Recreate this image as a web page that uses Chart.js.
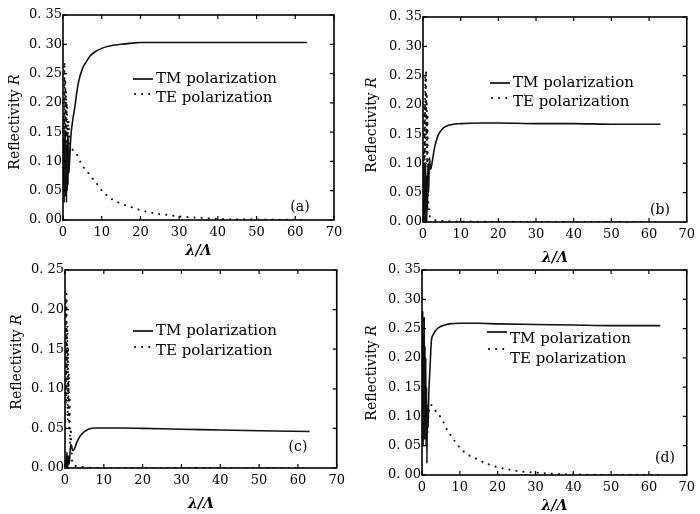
<!DOCTYPE html>
<html>
<head>
<meta charset="utf-8">
<script src="https://cdn.jsdelivr.net/npm/chart.js@4.4.0/dist/chart.umd.min.js"></script>
<style>
  html, body { margin: 0; padding: 0; background: #fff; }
  #wrap { position: relative; width: 700px; height: 514px; overflow: hidden; }
  .panel { position: absolute; width: 350px; }
</style>
</head>
<body>
<div id="wrap">
  <div class="panel" style="left:0;top:0;height:258px"><canvas id="chart-a"></canvas></div>
  <div class="panel" style="left:350px;top:0;height:265px"><canvas id="chart-b"></canvas></div>
  <div class="panel" style="left:0;top:257px;height:254px"><canvas id="chart-c"></canvas></div>
  <div class="panel" style="left:350px;top:257px;height:256px"><canvas id="chart-d"></canvas></div>
</div>
<script>
// x ticks shared by all four panels
const xTicks = [0, 10, 20, 30, 40, 50, 60, 70];

// (a)
const tmAX = [0.1,0.2,0.3,0.4,0.5,0.6,0.7,0.8,0.9,1.0,1.1,1.2,1.3,1.4,1.5,1.7,2.0,2.5,3.0,3.5,4.0,5.0,6.0,7.0,8.0,10,12,15,18,20,30,40,50,63];
const tmAY = [0.07,0.14,0.03,0.12,0.05,0.15,0.04,0.11,0.03,0.13,0.05,0.15,0.06,0.14,0.08,0.10,0.14,0.17,0.19,0.215,0.235,0.258,0.27,0.28,0.286,0.293,0.297,0.300,0.302,0.303,0.303,0.303,0.303,0.303];
const teAX = [0.1,0.2,0.3,0.4,0.5,0.6,0.7,0.8,0.9,1.0,1.2,1.4,1.7,2.0,2.5,3.3,5.0,6.7,8.5,10.2,12.3,15,17.6,20,23,26,30,35,40,50,63];
const teAY = [0.05,0.18,0.10,0.27,0.12,0.24,0.15,0.22,0.11,0.20,0.14,0.17,0.13,0.125,0.12,0.115,0.093,0.079,0.064,0.049,0.037,0.028,0.022,0.017,0.012,0.0095,0.006,0.004,0.002,0.001,0.0];

// (b)
const tmBX = [0.1,0.2,0.3,0.4,0.5,0.6,0.7,0.8,0.9,1.0,1.1,1.2,1.3,1.5,1.7,2.0,2.5,3.0,3.5,4.0,5.0,6.0,8.0,10,15,20,30,40,50,63];
const tmBY = [0.05,0.0,0.10,0.02,0.09,0.0,0.10,0.03,0.08,0.0,0.06,0.02,0.10,0.05,0.11,0.09,0.105,0.125,0.138,0.148,0.158,0.163,0.167,0.168,0.169,0.169,0.168,0.168,0.167,0.167];
const teBX = [0.1,0.2,0.3,0.4,0.5,0.6,0.7,0.8,0.9,1.0,1.1,1.2,1.3,1.5,1.8,2.5,4,10,20,63];
const teBY = [0.02,0.12,0.05,0.20,0.08,0.25,0.12,0.26,0.15,0.22,0.10,0.18,0.06,0.03,0.01,0.005,0.002,0.001,0.0,0.0];

// (c)
const tmCX = [0.1,0.3,0.5,0.7,0.9,1.1,1.3,1.5,2.0,2.5,3.0,4.0,5.0,6.0,8.0,10,15,20,30,40,50,63];
const tmCY = [0.01,0.0,0.02,0.0,0.015,0.005,0.02,0.03,0.022,0.025,0.032,0.041,0.046,0.049,0.0505,0.0505,0.0505,0.05,0.049,0.048,0.047,0.046];
const teCX = [0.1,0.2,0.3,0.4,0.5,0.6,0.7,0.8,0.9,1.0,1.1,1.2,1.3,1.5,1.8,2.5,5,10,63];
const teCY = [0.05,0.21,0.08,0.22,0.12,0.18,0.06,0.15,0.09,0.12,0.05,0.09,0.03,0.05,0.01,0.003,0.001,0.0,0.0];

// (d)
const tmDX = [0.1,0.2,0.3,0.4,0.5,0.6,0.7,0.8,0.9,1.0,1.1,1.2,1.3,1.4,1.6,1.8,2.1,2.5,3.0,3.5,4.7,6.0,7.3,10,15,20,30,40,50,63];
const tmDY = [0.10,0.28,0.05,0.24,0.08,0.27,0.06,0.22,0.09,0.20,0.05,0.15,0.02,0.12,0.08,0.14,0.18,0.23,0.24,0.246,0.253,0.256,0.258,0.259,0.259,0.258,0.257,0.256,0.255,0.255];
const teDX = [0.1,0.3,0.5,0.7,0.9,1.1,1.4,1.7,2.3,3.4,5.3,6.4,7.9,9.8,11.8,14.2,16.9,19.6,22.5,25.1,30,35,40,50,63];
const teDY = [0.05,0.12,0.06,0.14,0.08,0.12,0.07,0.10,0.12,0.111,0.095,0.080,0.065,0.048,0.036,0.028,0.020,0.014,0.010,0.007,0.004,0.002,0.001,0.0,0.0];

const serif = '"DejaVu Serif", "Liberation Serif", serif';
const teDash = [0.1, 7];

function toPoints(xs, ys) {
    return xs.map((x, i) => ({ x: x, y: ys[i] }));
}

// frame with inward ticks, y title with italic R, in-plot legend, panel tag
const framePlugin = {
    id: 'frame',
    afterDraw(chart, args, opts) {
        const ctx = chart.ctx;
        const a = chart.chartArea;
        const xs = chart.scales.x, ys = chart.scales.y;
        ctx.save();
        ctx.strokeStyle = '#000';
        ctx.lineWidth = 1.6;
        ctx.strokeRect(a.left, a.top, a.right - a.left, a.bottom - a.top);
        ctx.lineWidth = 1.2;
        ctx.beginPath();
        ys.ticks.forEach(t => {
            const py = ys.getPixelForValue(t.value);
            ctx.moveTo(a.left, py); ctx.lineTo(a.left + 4, py);
            ctx.moveTo(a.right, py); ctx.lineTo(a.right - 4, py);
        });
        xs.ticks.forEach(t => {
            const px = xs.getPixelForValue(t.value);
            ctx.moveTo(px, a.bottom); ctx.lineTo(px, a.bottom - 4);
            ctx.moveTo(px, a.top); ctx.lineTo(px, a.top + 4);
        });
        ctx.stroke();

        ctx.fillStyle = '#000';
        ctx.textBaseline = 'middle';

        // y title
        const T = opts.ytitle;
        const fontN = '14px ' + serif, fontI = 'italic 14px ' + serif;
        ctx.font = fontN;
        const w1 = ctx.measureText('Reflectivity ').width;
        ctx.font = fontI;
        const w2 = ctx.measureText('R').width;
        ctx.save();
        ctx.translate(T.x, T.y);
        ctx.rotate(-Math.PI / 2);
        ctx.textAlign = 'left';
        ctx.font = fontN;
        ctx.fillText('Reflectivity ', -(w1 + w2) / 2, 0);
        ctx.font = fontI;
        ctx.fillText('R', -(w1 + w2) / 2 + w1, 0);
        ctx.restore();

        // legend
        const L = opts.legend;
        const lx = a.left + L.x, ly = a.top + L.y;
        ctx.lineWidth = 1.6;
        ctx.beginPath();
        ctx.moveTo(lx, ly + L.lineDy); ctx.lineTo(lx + 20, ly + L.lineDy);
        ctx.stroke();
        ctx.lineCap = 'round';
        ctx.lineWidth = 2;
        ctx.setLineDash(teDash);
        ctx.beginPath();
        ctx.moveTo(lx + 2, ly + L.gap + L.dotDy); ctx.lineTo(lx + 18, ly + L.gap + L.dotDy);
        ctx.stroke();
        ctx.setLineDash([]);
        ctx.font = '15px ' + serif;
        ctx.textAlign = 'left';
        ctx.fillText('TM polarization', lx + 23, ly);
        ctx.fillText('TE polarization', lx + 23, ly + L.gap);

        // panel tag
        ctx.font = '14px ' + serif;
        ctx.textAlign = 'center';
        ctx.fillText(opts.tag.text, a.left + opts.tag.x, a.top + opts.tag.y);
        ctx.restore();
    }
};

function makePanel(id, tmX, tmY, teX, teY, yMax, box, ytitle, legend, tag) {
    const ctx = document.getElementById(id).getContext('2d');
    return new Chart(ctx, {
        type: 'line',
        data: {
            datasets: [{
                label: 'TM polarization',
                data: toPoints(tmX, tmY),
                borderColor: '#111',
                borderWidth: 1.6,
                pointRadius: 0,
                cubicInterpolationMode: 'monotone',
                fill: false
            }, {
                label: 'TE polarization',
                data: toPoints(teX, teY),
                borderColor: '#111',
                borderWidth: 2,
                borderDash: teDash,
                borderCapStyle: 'round',
                pointRadius: 0,
                cubicInterpolationMode: 'monotone',
                fill: false
            }]
        },
        options: {
            responsive: true,
            maintainAspectRatio: false,
            animation: false,
            layout: { padding: { top: box.padTop, right: box.padRight, left: 0, bottom: 0 } },
            scales: {
                x: {
                    type: 'linear',
                    min: 0,
                    max: 70,
                    afterBuildTicks: s => { s.ticks = xTicks.map(v => ({ value: v })); },
                    ticks: { color: '#000', font: { family: serif, size: 13 }, padding: 5 },
                    grid: { display: false, drawTicks: false, tickLength: 0 },
                    border: { display: false },
                    title: {
                        display: true, text: 'λ/Λ', color: '#000',
                        font: { family: serif, size: 14, style: 'italic', weight: 'bold', lineHeight: 1 },
                        padding: { top: 0, bottom: 0 }
                    },
                    afterFit: s => { s.height = box.xHeight; }
                },
                y: {
                    min: 0,
                    max: yMax,
                    ticks: {
                        stepSize: 0.05,
                        color: '#000',
                        font: { family: serif, size: 13 },
                        padding: 1,
                        callback: v => v.toFixed(2).replace('.', '. ')
                    },
                    grid: { display: false, drawTicks: false, tickLength: 0 },
                    border: { display: false },
                    title: { display: false },
                    afterFit: s => { s.width = box.yWidth; }
                }
            },
            plugins: {
                legend: { display: false },
                tooltip: { enabled: false },
                frame: { ytitle: ytitle, legend: legend, tag: tag }
            }
        },
        plugins: [framePlugin]
    });
}

makePanel('chart-a', tmAX, tmAY, teAX, teAY, 0.35,
    { yWidth: 63, xHeight: 38, padTop: 15, padRight: 16 },
    { x: 15, y: 122 },
    { x: 70, y: 64, gap: 19, lineDy: 0, dotDy: -4 }, { text: '(a)', x: 237, y: 192 });
makePanel('chart-b', tmBX, tmBY, teBX, teBY, 0.35,
    { yWidth: 73, xHeight: 43, padTop: 17, padRight: 7 },
    { x: 22, y: 125 },
    { x: 67, y: 66, gap: 19, lineDy: 0, dotDy: -4 }, { text: '(b)', x: 237, y: 193 });
makePanel('chart-c', tmCX, tmCY, teCX, teCY, 0.25,
    { yWidth: 65, xHeight: 43, padTop: 13, padRight: 12 },
    { x: 17, y: 105 },
    { x: 68, y: 61, gap: 20, lineDy: 0, dotDy: -4 }, { text: '(c)', x: 233, y: 177 });
makePanel('chart-d', tmDX, tmDY, teDX, teDY, 0.35,
    { yWidth: 72, xHeight: 38, padTop: 13, padRight: 8 },
    { x: 22, y: 116 },
    { x: 65, y: 69, gap: 20, lineDy: -7, dotDy: -10 }, { text: '(d)', x: 243, y: 188 });
</script>
</body>
</html>
